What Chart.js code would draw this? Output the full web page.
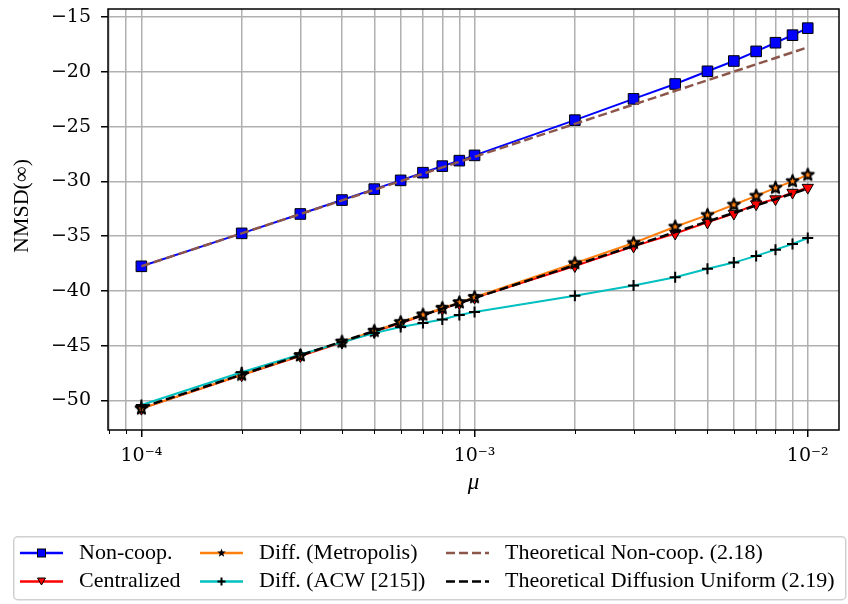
<!DOCTYPE html>
<html>
<head>
<meta charset="utf-8">
<script src="https://cdn.jsdelivr.net/npm/chart.js@4.4.1/dist/chart.umd.min.js"></script>
<style>
  html, body { margin: 0; padding: 0; background: #fff; }
</style>
</head>
<body>
<canvas id="myChart" width="848" height="604"></canvas>
<script>
// Valores del eje x (paso mu)
const mu = [1e-4, 2e-4, 3e-4, 4e-4, 5e-4, 6e-4, 7e-4, 8e-4, 9e-4,
            1e-3, 2e-3, 3e-3, 4e-3, 5e-3, 6e-3, 7e-3, 8e-3, 9e-3, 1e-2];

// NMSD en dB
const nonCoop = [-37.75, -34.74, -32.97, -31.70, -30.70, -29.90, -29.20, -28.60, -28.10, -27.62,
                 -24.40, -22.46, -21.10, -19.94, -19.00, -18.12, -17.33, -16.64, -16.00];
const centralized = [-50.75, -47.69, -45.94, -44.72, -43.72, -42.95, -42.23, -41.62, -41.12, -40.62,
                     -37.72, -35.93, -34.75, -33.74, -32.93, -32.07, -31.61, -31.01, -30.56];
const diffMetropolis = [-50.75, -47.66, -45.90, -44.65, -43.66, -42.86, -42.18, -41.58, -41.06, -40.58,
                        -37.47, -35.62, -34.14, -33.07, -32.13, -31.32, -30.59, -29.98, -29.40];
const diffACW = [-50.42, -47.42, -45.80, -44.70, -43.85, -43.30, -42.93, -42.60, -42.20, -41.93,
                 -40.44, -39.50, -38.75, -37.98, -37.41, -36.80, -36.23, -35.71, -35.16];
const theoNonCoop = [-37.75, -34.74, -32.98, -31.73, -30.76, -29.97, -29.30, -28.72, -28.21, -27.75,
                     -24.74, -22.98, -21.73, -20.76, -19.97, -19.30, -18.72, -18.21, -17.75];
const theoDiffusion = [-50.65, -47.64, -45.88, -44.63, -43.66, -42.87, -42.20, -41.62, -41.11, -40.65,
                       -37.64, -35.88, -34.63, -33.66, -32.87, -32.20, -31.62, -31.11, -30.65];

// Etiquetas de los ticks
const xMajorTicks = [1e-4, 1e-3, 1e-2];
const xTickLabels = ['10⁻⁴', '10⁻³', '10⁻²'];
const yTicks = [-50, -45, -40, -35, -30, -25, -20, -15];

const labels = ['Non-coop.', 'Centralized', 'Diff. (Metropolis)', 'Diff. (ACW [215])',
                'Theoretical Non-coop. (2.18)', 'Theoretical Diffusion Uniform (2.19)'];

// Dibuja una estrella de 5 puntas (como el '*' de matplotlib)
function starPath(g, cx, cy, r) {
  g.beginPath();
  for (let k = 0; k < 10; k++) {
    const rr = k % 2 === 0 ? r : r * 0.42;
    const ang = -Math.PI / 2 + k * Math.PI / 5;
    const px = cx + rr * Math.cos(ang), py = cy + rr * Math.sin(ang);
    if (k) g.lineTo(px, py); else g.moveTo(px, py);
  }
  g.closePath();
}

function makeStar(r, fill) {
  const c = document.createElement('canvas');
  const s = Math.ceil(r * 2 + 4);
  c.width = s; c.height = s;
  const g = c.getContext('2d');
  starPath(g, s / 2, s / 2, r);
  g.fillStyle = fill; g.fill();
  g.lineWidth = 2; g.lineJoin = 'round'; g.strokeStyle = '#000'; g.stroke();
  return c;
}

function pts(values) {
  return mu.map((m, i) => ({ x: m, y: values[i] }));
}

const datasets = [
  { label: labels[0], data: pts(nonCoop), borderColor: '#0000ff', backgroundColor: '#0000ff',
    borderWidth: 2, pointStyle: 'rect', pointRadius: 7.5, pointBackgroundColor: '#0000ff',
    pointBorderColor: '#000', pointBorderWidth: 1, order: 6, marker: 'rect' },
  { label: labels[1], data: pts(centralized), borderColor: '#ff0000', backgroundColor: '#ff0000',
    borderWidth: 2, pointStyle: 'triangle', rotation: 180, pointRadius: 6.5, pointBackgroundColor: '#ff0000',
    pointBorderColor: '#000', pointBorderWidth: 1, order: 5, marker: 'tri' },
  { label: labels[2], data: pts(diffMetropolis), borderColor: '#ff7f0e', backgroundColor: '#ff7f0e',
    borderWidth: 2, pointStyle: makeStar(6.2, '#ff7f0e'), pointRadius: 7,
    order: 4, marker: 'star' },
  { label: labels[3], data: pts(diffACW), borderColor: '#00bfbf', backgroundColor: '#00bfbf',
    borderWidth: 2, pointStyle: 'cross', pointRadius: 5.5, pointBorderColor: '#000',
    pointBorderWidth: 2, order: 3, marker: 'plus' },
  { label: labels[4], data: pts(theoNonCoop), borderColor: '#8c564b', borderWidth: 2.5,
    borderDash: [9, 4], pointRadius: 0, order: 2, marker: 'none' },
  { label: labels[5], data: pts(theoDiffusion), borderColor: '#000000', borderWidth: 2.5,
    borderDash: [9, 4], pointRadius: 0, order: 1, marker: 'none' }
];

const serif = '"Liberation Serif", "Times New Roman", serif';

// Leyenda de 3 columnas debajo del grafico
function drawLegend(chart) {
  const ctx = chart.ctx;
  const colX = [20, 200, 446];
  const rowY = [553, 581.5];
  ctx.save();
  ctx.lineWidth = 1.5;
  ctx.strokeStyle = '#d0d0d0';
  ctx.fillStyle = '#fff';
  ctx.beginPath();
  ctx.roundRect(13.75, 536.75, 832, 63, 4);
  ctx.fill();
  ctx.stroke();
  chart.data.datasets.forEach((ds, i) => {
    const x0 = colX[Math.floor(i / 2)];
    const y = rowY[i % 2];
    const cx = x0 + 21.5;
    ctx.strokeStyle = ds.borderColor;
    ctx.lineWidth = 2.5;
    ctx.setLineDash(ds.borderDash || []);
    ctx.beginPath();
    ctx.moveTo(x0, y);
    ctx.lineTo(x0 + 43, y);
    ctx.stroke();
    ctx.setLineDash([]);
    ctx.lineWidth = 1;
    ctx.strokeStyle = '#000';
    ctx.fillStyle = ds.borderColor;
    if (ds.marker === 'rect') {
      ctx.fillRect(cx - 4, y - 4, 8, 8);
      ctx.strokeRect(cx - 4, y - 4, 8, 8);
    } else if (ds.marker === 'tri') {
      ctx.beginPath();
      ctx.moveTo(cx - 4, y - 3.5);
      ctx.lineTo(cx + 4, y - 3.5);
      ctx.lineTo(cx, y + 3.5);
      ctx.closePath();
      ctx.fill();
      ctx.stroke();
    } else if (ds.marker === 'star') {
      starPath(ctx, cx, y, 4.5);
      ctx.fillStyle = '#000';
      ctx.fill();
    } else if (ds.marker === 'plus') {
      ctx.lineWidth = 2;
      ctx.beginPath();
      ctx.moveTo(cx - 4, y); ctx.lineTo(cx + 4, y);
      ctx.moveTo(cx, y - 4); ctx.lineTo(cx, y + 4);
      ctx.stroke();
    }
    ctx.fillStyle = '#000';
    ctx.font = '22px ' + serif;
    ctx.textAlign = 'left';
    ctx.textBaseline = 'middle';
    ctx.fillText(ds.label, x0 + 59, y);
  });
  ctx.restore();
}

// Marco, ticks menores, titulos de ejes y leyenda
const framePlugin = {
  id: 'frame',
  afterDraw(chart) {
    const { ctx, chartArea: a, scales } = chart;
    ctx.save();
    ctx.strokeStyle = '#000';
    ctx.lineWidth = 1;
    scales.x.ticks.forEach(t => {
      if (t.major) return;
      const px = Math.round(scales.x.getPixelForValue(t.value)) + 0.5;
      ctx.beginPath();
      ctx.moveTo(px, a.bottom);
      ctx.lineTo(px, a.bottom + 4);
      ctx.stroke();
    });
    ctx.lineWidth = 1.5;
    ctx.strokeRect(a.left, a.top, a.right - a.left, a.bottom - a.top);
    ctx.fillStyle = '#000';
    ctx.textAlign = 'center';
    ctx.textBaseline = 'middle';
    ctx.font = 'italic 23px ' + serif;
    ctx.fillText('μ', (a.left + a.right) / 2, 483);
    ctx.translate(22, 206);
    ctx.rotate(-Math.PI / 2);
    ctx.font = '22px ' + serif;
    ctx.fillText('NMSD(∞)', 0, 0);
    ctx.restore();
    drawLegend(chart);
  }
};

const tickFont = { family: 'DejaVu Serif', size: 19 };

const myChart = new Chart('myChart', {
  type: 'line',
  data: { datasets },
  options: {
    responsive: false,
    animation: false,
    devicePixelRatio: 1,
    layout: { padding: { left: 0, right: 7, top: 7.5, bottom: 0 } },
    elements: { line: { tension: 0 } },
    plugins: { legend: { display: false }, tooltip: { enabled: false } },
    scales: {
      x: {
        type: 'logarithmic',
        min: 7.94e-5,
        max: 0.01241,
        afterFit: s => {
          s.height = 604 - 430;
          s.paddingLeft = 0; s.paddingRight = 0;
        },
        afterBuildTicks: s => {
          const t = [];
          for (let e = -5; e <= -2; e++) {
            for (let k = 1; k <= 9; k++) {
              const v = k * Math.pow(10, e);
              if (v >= 7.94e-5 && v <= 0.01241) t.push({ value: v, major: k === 1 });
            }
          }
          s.ticks = t;
        },
        border: { display: false },
        grid: {
          color: '#b0b0b0', lineWidth: 1.5, tickLength: 7,
          tickColor: c => (c.tick && c.tick.major ? '#000' : 'rgba(0,0,0,0)'), tickWidth: 1.5
        },
        ticks: {
          autoSkip: false, maxRotation: 0, padding: 8, color: '#000', font: tickFont,
          callback: v => {
            const i = xMajorTicks.findIndex(m => Math.abs(m - v) < v * 1e-6);
            return i >= 0 ? xTickLabels[i] : '';
          }
        }
      },
      y: {
        type: 'linear',
        min: -52.7,
        max: -14.25,
        afterFit: s => {
          s.width = 108;
          s.paddingTop = 0; s.paddingBottom = 0;
        },
        afterBuildTicks: s => { s.ticks = yTicks.map(v => ({ value: v })); },
        border: { display: false },
        grid: { color: '#b0b0b0', lineWidth: 1.5, tickLength: 7, tickColor: '#000', tickWidth: 1.5 },
        ticks: { padding: 10, color: '#000', font: tickFont, callback: v => '−' + Math.abs(v) }
      }
    }
  },
  plugins: [framePlugin]
});
</script>
</body>
</html>
